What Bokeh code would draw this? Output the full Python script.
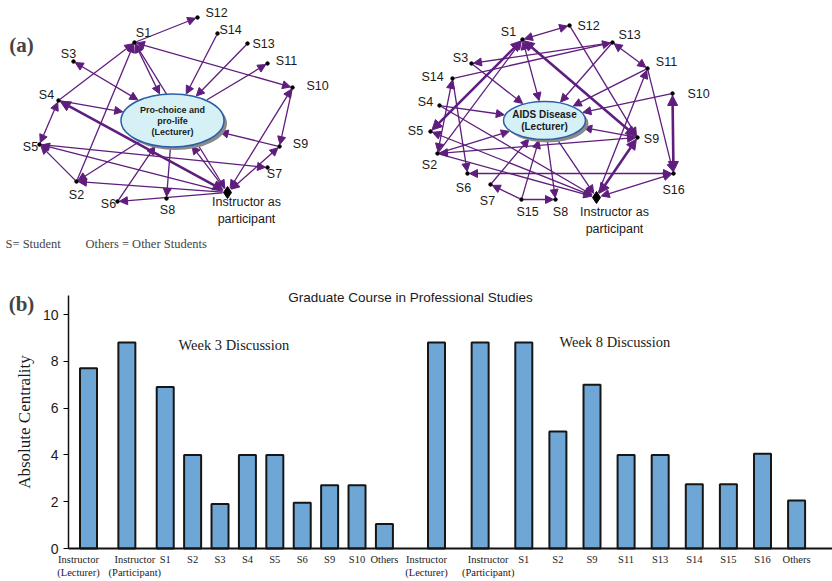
import numpy as np
from bokeh.plotting import figure
from bokeh.models import (Range1d, ColumnDataSource, Arrow, NormalHead, Label, FixedTicker)
from bokeh.layouts import column
from bokeh.embed import file_html
from bokeh.resources import INLINE
from bokeh.core.properties import value

# ---------------- bar chart data ----------------
week3_labels = ["Instructor\n(Lecturer)", "Instructor\n(Participant)", "S1", "S2", "S3", "S4",
                "S5", "S6", "S9", "S10", "Others"]
week3_values = [7.7, 8.8, 6.9, 4.0, 1.9, 4.0, 4.0, 1.95, 2.7, 2.7, 1.05]
week8_labels = ["Instructor\n(Lecturer)", "Instructor\n(Participant)", "S1", "S2", "S9", "S11",
                "S13", "S14", "S15", "S16", "Others"]
week8_values = [8.8, 8.8, 8.8, 5.0, 7.0, 4.0, 4.0, 2.75, 2.75, 4.05, 2.05]
y_ticks = [0, 2, 4, 6, 8, 10]

# ---------------- network (a) data ----------------
left_names = ["L", "Inst", "S1", "S2", "S3", "S4", "S5", "S6", "S7", "S8", "S9", "S10",
              "S11", "S12", "S13", "S14"]
left_x = [172, 227, 134, 76, 73, 58, 39, 117, 267, 166, 279, 292, 267, 197, 247, 217]
left_y = [120, 192, 42, 181, 61, 100, 144, 201, 167, 198, 146, 87, 63, 17, 43, 33]
left_edges = [("S1", "S12", "->"), ("S14", "L", "->"), ("S13", "L", "->"), ("L", "S11", "->"),
              ("S1", "S10", "<->"), ("S3", "L", "<->"), ("S4", "S1", "->"), ("S4", "L", "->"),
              ("S4", "S5", "<->"), ("Inst", "S4", "<=>"), ("S5", "S7", "->"), ("Inst", "S5", "->"),
              ("S2", "S5", "->"), ("S2", "S1", "->"), ("L", "S2", "->"), ("Inst", "S2", "->"),
              ("Inst", "S6", "->"), ("S6", "L", "->"), ("L", "S8", "->"), ("S1", "L", "<->"),
              ("Inst", "S1", "<->"), ("S9", "L", "->"), ("S10", "S9", "->"), ("S10", "Inst", "<->"),
              ("S9", "Inst", "<->"), ("Inst", "L", "->")]

right_names = ["L", "Inst", "S1", "S2", "S3", "S4", "S5", "S6", "S7", "S8", "S9", "S10",
               "S11", "S12", "S13", "S14", "S15", "S16"]
right_x = [544, 596, 522, 437, 471, 439, 430, 467, 490, 555, 637, 672, 647, 569, 612, 452, 521, 673]
right_y = [120, 197, 39, 153, 63, 105, 131, 173, 184, 199, 137, 93, 68, 25, 42, 78, 199, 173]
right_edges = [("S1", "S12", "<->"), ("S12", "S9", "->"), ("S13", "S3", "->"), ("S14", "S13", "->"),
               ("S13", "S11", "<->"), ("S13", "L", "->"), ("S11", "L", "->"), ("S11", "S16", "->"),
               ("S10", "S16", "<=>"), ("S10", "L", "->"), ("S1", "S9", "<=>"), ("S1", "S5", "<=>"),
               ("S2", "S1", "->"), ("S1", "L", "<->"), ("L", "S8", "->"), ("S3", "L", "->"),
               ("S14", "S6", "->"), ("S2", "S14", "<->"), ("S4", "L", "->"), ("S4", "Inst", "->"),
               ("Inst", "S5", "->"), ("S2", "L", "->"), ("S2", "S9", "<->"), ("S2", "Inst", "->"),
               ("S6", "S16", "<->"), ("S7", "L", "->"), ("S15", "S7", "->"), ("S15", "S8", "->"),
               ("S15", "L", "->"), ("L", "Inst", "->"), ("Inst", "S9", "<=>"), ("Inst", "S11", "->"),
               ("Inst", "S16", "<->"), ("S9", "L", "->")]

PURPLE = "#5f1d7d"
SANS = "Liberation Sans"
SERIF = "Liberation Serif"
W = 832
TOP_H = 275
BAR_H = 306

# ---------------- top figure: two networks ----------------
top = figure(width=W, height=TOP_H, x_range=Range1d(0, W), y_range=Range1d(TOP_H, 0),
             x_axis_type=None, y_axis_type=None, toolbar_location=None, output_backend="svg",
             min_border=0, outline_line_color=None)
top.grid.visible = False


def draw_network(p, names, xs, ys, edges, ell_w, ell_h, ell_text, ell_font,
                 label_pos, inst_label_pos):
    nodes = {n: (x, y) for n, x, y in zip(names, xs, ys)}

    def endpoint(name, other):
        x, y = nodes[name]
        ox, oy = nodes[other]
        dx, dy = ox - x, oy - y
        d = np.hypot(dx, dy)
        if name == "L":
            a, b = ell_w / 2 + 1, ell_h / 2 + 1
            t = 1 / np.sqrt((dx / a) ** 2 + (dy / b) ** 2)
            return x + dx * t, y + dy * t
        r = 5 if name == "Inst" else 2
        return x + dx / d * r, y + dy / d * r

    groups = {}
    for s, t, kind in edges:
        x0, y0 = endpoint(s, t)
        x1, y1 = endpoint(t, s)
        g = groups.setdefault(kind, dict(x0=[], y0=[], x1=[], y1=[]))
        g["x0"].append(x0); g["y0"].append(y0); g["x1"].append(x1); g["y1"].append(y1)
    for kind, g in groups.items():
        thick = "=" in kind
        size = 10 if thick else 8
        head = lambda: NormalHead(size=size, fill_color=PURPLE, line_color=PURPLE, line_width=1)
        p.add_layout(Arrow(source=ColumnDataSource(g), x_start="x0", y_start="y0",
                           x_end="x1", y_end="y1", end=head(),
                           start=head() if kind.startswith("<") else None,
                           line_color=PURPLE, line_width=2.6 if thick else 1.3,
                           level="underlay"))
    lx, ly = nodes["L"]
    p.ellipse(x=[lx + 3], y=[ly + 3], width=ell_w, height=ell_h, fill_color="#8a8a8a",
              line_color=None)
    p.ellipse(x=[lx], y=[ly], width=ell_w, height=ell_h, fill_color="#d6f1f6",
              line_color="#2b5ea7", line_width=1.5)
    p.text(x=[lx], y=[ly], text=[ell_text], text_font=value(SANS), text_font_style="bold",
           text_font_size=ell_font, text_align="center", text_baseline="middle",
           text_line_height=1.1, text_color="#1a1a1a")
    sx = [nodes[n][0] for n in names if n not in ("L", "Inst")]
    sy = [nodes[n][1] for n in names if n not in ("L", "Inst")]
    p.scatter(x=sx, y=sy, size=3.5, color="black")
    ix, iy = nodes["Inst"]
    p.scatter(x=[ix], y=[iy], marker="diamond", size=12, color="black")
    labs = [n for n in names if n not in ("L", "Inst")]
    p.text(x=[label_pos[n][0] for n in labs], y=[label_pos[n][1] for n in labs], text=labs,
           text_font=value(SANS), text_font_size="12.5px", text_align="center",
           text_baseline="middle", text_color="#1a1a1a")
    p.text(x=[inst_label_pos[0]], y=[inst_label_pos[1]], text=["Instructor as\nparticipant"],
           text_font=value(SANS), text_font_size="12.5px", text_align="center",
           text_baseline="middle", text_line_height=1.15, text_color="#1a1a1a")


left_label_pos = {"S1": (143, 32), "S12": (216, 12), "S14": (230, 29), "S13": (263, 43),
                  "S11": (286, 60), "S10": (317, 85), "S3": (68, 53), "S4": (46, 94),
                  "S5": (30, 146), "S2": (76, 194), "S6": (108, 203), "S8": (167, 209),
                  "S7": (274, 173), "S9": (300, 143)}
right_label_pos = {"S1": (508, 31), "S12": (588, 25), "S13": (629, 34), "S11": (666, 61),
                   "S10": (698, 93), "S3": (460, 57), "S14": (432, 76), "S4": (425, 101),
                   "S5": (415, 130), "S2": (429, 164), "S6": (463, 187), "S7": (487, 200),
                   "S15": (527, 211), "S8": (560, 211), "S9": (651, 138), "S16": (673, 189)}

draw_network(top, left_names, left_x, left_y, left_edges, 103, 53,
             "Pro-choice and\npro-life\n(Lecturer)", "9px", left_label_pos, (246, 210))
draw_network(top, right_names, right_x, right_y, right_edges, 82, 38,
             "AIDS Disease\n(Lecturer)", "10px", right_label_pos, (614, 220))

top.add_layout(Label(x=21, y=44, text="(a)", text_font=SERIF, text_font_style="bold",
                     text_font_size="21px", text_align="center", text_baseline="middle"))
top.add_layout(Label(x=5, y=243, text="S= Student", text_font=SERIF, text_font_size="12.5px",
                     text_align="left", text_baseline="middle"))
top.add_layout(Label(x=85, y=243, text="Others = Other Students", text_font=SERIF,
                     text_font_size="12.5px", text_align="left", text_baseline="middle"))

# ---------------- bar chart ----------------
FRAME_TOP = TOP_H + 5      # page y of frame top
FRAME_B = 548              # page y of value 0 (x axis line)
AXIS_X = 68                # page x of the y axis
PX = 27.4                  # px per x unit
PY = 23.4                  # px per y unit
X0_PAGE = 88               # page x of first bar


def px2x(page_x):
    return (page_x - X0_PAGE) / PX


def py2y(page_y):
    return (FRAME_B - page_y) / PY


Y_END = py2y(FRAME_TOP)
Y_START = py2y(TOP_H + BAR_H)
Y_AXIS_TOP = py2y(295)


def slot_positions(labels, start, unit, wide):
    pos, out = start, []
    for i, lab in enumerate(labels):
        if i > 0:
            pos += (wide if labels[i - 1].startswith("Instructor") else 1.0) * unit
        out.append(round(pos, 4))
    return out


x3 = slot_positions(week3_labels, 0.0, 1.0, 1.4)
x8 = slot_positions(week8_labels, px2x(436), 34.1 / PX, 1.28)


def label_positions(labels, xs):
    # two-line labels sit slightly apart from their bars, as in the original
    out = []
    for lab, x in zip(labels, xs):
        if "(Lecturer)" in lab:
            x -= 10 / PX
        elif "(Participant)" in lab:
            x += 8 / PX
        out.append(round(x, 4))
    return out


t3 = label_positions(week3_labels, x3)
t8 = label_positions(week8_labels, x8)

bars = figure(width=W, height=BAR_H, x_range=Range1d(px2x(0), px2x(W)),
              y_range=Range1d(Y_START, Y_END), toolbar_location=None, output_backend="svg",
              min_border=0, min_border_top=FRAME_TOP - TOP_H, outline_line_color=None)
bars.grid.visible = False

src = ColumnDataSource(dict(x=x3 + x8, top=week3_values + week8_values))
bars.vbar(x="x", top="top", bottom=0, width=17 / PX, source=src, fill_color="#6ea7d6",
          line_color="#161616", line_width=2)

xa = bars.xaxis[0]
xa.fixed_location = 0
xa.ticker = FixedTicker(ticks=t3 + t8)
xa.major_label_overrides = {x: lab for x, lab in zip(t3 + t8, week3_labels + week8_labels)}
xa.bounds = (px2x(AXIS_X), px2x(W))
xa.major_label_text_font = SERIF
xa.major_label_text_font_size = "10.5px"
xa.major_label_text_color = "#1a1a1a"
xa.major_label_standoff = 5
xa.major_tick_in = 0
xa.major_tick_out = 0
xa.minor_tick_in = 0
xa.minor_tick_out = 0
xa.axis_line_width = 2
xa.axis_line_color = "#111111"

ya = bars.yaxis[0]
ya.fixed_location = px2x(AXIS_X)
ya.ticker = FixedTicker(ticks=y_ticks)
ya.bounds = (0, Y_AXIS_TOP)
ya.major_label_text_font = SANS
ya.major_label_text_font_size = "14px"
ya.major_label_text_color = "#1a1a1a"
ya.major_tick_in = 0
ya.major_tick_out = 5
ya.minor_tick_in = 0
ya.minor_tick_out = 0
ya.axis_line_width = 1.5
ya.axis_line_color = "#111111"
ya.axis_label = "Absolute Centrality"
ya.axis_label_text_font = SERIF
ya.axis_label_text_font_style = "normal"
ya.axis_label_text_font_size = "17px"
ya.axis_label_text_color = "#1a1a1a"
ya.axis_label_standoff = 6

bars.add_layout(Label(x=px2x(410), y=py2y(297), text="Graduate Course in Professional Studies",
                      text_font=SANS, text_font_size="13.5px", text_align="center",
                      text_baseline="middle", text_color="#1a1a1a"))
bars.add_layout(Label(x=px2x(21), y=py2y(303), text="(b)", text_font=SERIF,
                      text_font_style="bold", text_font_size="21px", text_align="center",
                      text_baseline="middle"))
bars.add_layout(Label(x=px2x(178), y=py2y(344), text="Week 3 Discussion", text_font=SERIF,
                      text_font_size="14.5px", text_align="left", text_baseline="middle",
                      text_color="#1a1a1a"))
bars.add_layout(Label(x=px2x(559), y=py2y(341), text="Week 8 Discussion", text_font=SERIF,
                      text_font_size="14.5px", text_align="left", text_baseline="middle",
                      text_color="#1a1a1a"))

layout = column(top, bars, spacing=0)
open("out.html", "w").write(file_html(layout, INLINE))
